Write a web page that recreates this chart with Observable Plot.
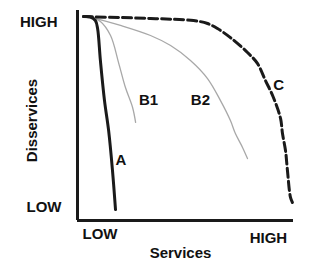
<!DOCTYPE html>
<html>
<head>
<meta charset="utf-8">
<script src="https://cdn.jsdelivr.net/npm/d3@7"></script>
<script src="https://cdn.jsdelivr.net/npm/@observablehq/plot@0.6"></script>
<style>
  html, body { margin: 0; padding: 0; background: #fff; }
  svg { font-family: "Liberation Sans", Arial, sans-serif; }
</style>
</head>
<body>
<div id="chart"></div>
<script>
// Curve A (thick black)
const aX = [2.8, 6.0, 8.3, 9.3, 10.6, 12.5, 14.4, 16.2, 17.6];
const aY = [97.1, 96.9, 95.2, 91.4, 76.2, 57.1, 42.9, 23.8, 5.2];
// Curve B1 (gray)
const b1X = [5.1, 10.6, 15.3, 19.0, 22.2, 25.5, 26.9];
const b1Y = [97.1, 94.8, 88.1, 75.2, 63.3, 53.8, 46.7];
// Curve B2 (gray)
const b2X = [5.1, 19.9, 33.8, 43.1, 52.3, 60.2, 66.2, 70.8, 73.1, 76.4, 78.7];
const b2Y = [97.1, 92.9, 88.1, 83.3, 76.2, 67.6, 57.1, 47.6, 41.4, 34.8, 29.5];
// Curve C (dashed black)
const cX = [2.8, 33.8, 53.7, 60.2, 64.8, 70.8, 78.7, 83.3, 87.0, 90.7, 94.0, 94.9, 96.3, 97.2, 98.6, 99.5];
const cY = [97.1, 96.2, 95.2, 93.8, 91.4, 87.1, 80.0, 74.8, 66.7, 58.6, 48.6, 41.4, 33.3, 23.8, 11.0, 8.6];

// Curve labels
const curveNames = ["A", "B1", "B2", "C"];
const curveLabelX = [20.1, 32.9, 56.9, 93.1];
const curveLabelY = [28.6, 57.1, 57.1, 64.3];

// Tick labels
const xTickLabels = ["LOW", "HIGH"];
const xTickValues = [10.4, 88.4];
const yTickLabels = ["LOW", "HIGH"];
const yTickValues = [6.2, 94.3];
const xTitle = "Services";
const yTitle = "Disservices";

const toPts = (xs, ys) => xs.map((x, i) => ({x, y: ys[i]}));
const labels = curveNames.map((n, i) => ({n, x: curveLabelX[i], y: curveLabelY[i]}));

const font = {fontSize: 15, fontWeight: "bold", fill: "#111"};

const chart = Plot.plot({
  width: 314,
  height: 267,
  marginLeft: 77,
  marginRight: 21,
  marginTop: 10,
  marginBottom: 47,
  x: {domain: [0, 100], axis: null},
  y: {domain: [0, 100], axis: null},
  style: {background: "#fff", fontFamily: "'Liberation Sans', Arial, sans-serif"},
  marks: [
    Plot.line(toPts(b1X, b1Y), {x: "x", y: "y", stroke: "#a8a8a8", strokeWidth: 1.3, curve: "catmull-rom"}),
    Plot.line(toPts(b2X, b2Y), {x: "x", y: "y", stroke: "#a8a8a8", strokeWidth: 1.3, curve: "catmull-rom"}),
    Plot.line(toPts(cX, cY), {x: "x", y: "y", stroke: "#1a1a1a", strokeWidth: 3, strokeDasharray: "9,4", curve: "catmull-rom"}),
    Plot.line(toPts(aX, aY), {x: "x", y: "y", stroke: "#1a1a1a", strokeWidth: 3, curve: "catmull-rom"}),
    Plot.ruleX([0], {y1: 0, y2: 100, stroke: "#1a1a1a", strokeWidth: 3}),
    Plot.ruleY([0], {x1: 0, x2: 100, stroke: "#1a1a1a", strokeWidth: 3}),
    Plot.text(labels, {x: "x", y: "y", text: "n", ...font}),
    Plot.axisY([yTickValues[0]], {label: null, tickSize: 0, tickPadding: 16, tickFormat: () => yTickLabels[0], ...font}),
    Plot.axisY([yTickValues[1]], {label: null, tickSize: 0, tickPadding: 20, tickFormat: () => yTickLabels[1], ...font}),
    Plot.axisX([xTickValues[0]], {label: null, tickSize: 0, tickPadding: 8, tickFormat: () => xTickLabels[0], ...font}),
    Plot.axisX([xTickValues[1]], {label: null, tickSize: 0, tickPadding: 12, tickFormat: () => xTickLabels[1], ...font}),
    Plot.text([yTitle], {frameAnchor: "left", textAnchor: "middle", lineAnchor: "middle", rotate: -90, dx: -45, dy: 5, ...font}),
    Plot.text([xTitle], {frameAnchor: "bottom", dx: -5, dy: 37, ...font})
  ]
});
document.getElementById("chart").appendChild(chart);
</script>
</body>
</html>
